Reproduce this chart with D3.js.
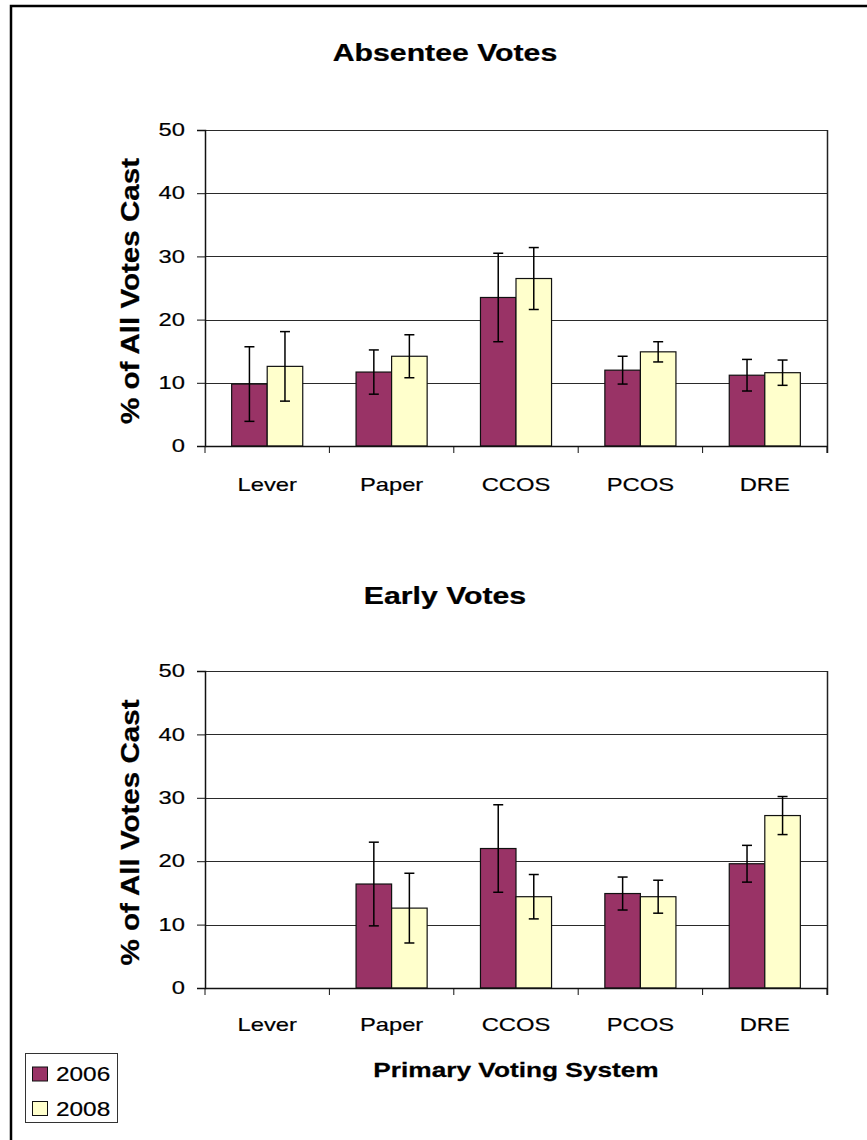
<!DOCTYPE html>
<html>
<head>
<meta charset="utf-8">
<script src="https://cdn.jsdelivr.net/npm/d3@7"></script>
<style>
  html, body { margin: 0; padding: 0; background: #fff; }
  svg { display: block; font-family: "Liberation Sans", Arial, sans-serif; }
</style>
</head>
<body>
<svg id="chart" width="867" height="1140"></svg>
<script>
// Voting systems on the x axis
const categories = ["Lever", "Paper", "CCOS", "PCOS", "DRE"];
const seriesNames = ["2006", "2008"];
const yTicks = [0, 10, 20, 30, 40, 50];

// Absentee votes, % of all votes cast, with error half-widths
const absentee2006 = [9.8, 11.7, 23.5, 12.0, 11.2];
const absentee2006Err = [5.9, 3.5, 7.0, 2.2, 2.5];
const absentee2008 = [12.6, 14.2, 26.5, 14.9, 11.6];
const absentee2008Err = [5.5, 3.4, 4.9, 1.6, 2.0];

// Early votes (no lever-machine data)
const early2006 = [null, 16.4, 22.0, 14.9, 19.6];
const early2006Err = [null, 6.6, 6.9, 2.6, 2.9];
const early2008 = [null, 12.6, 14.4, 14.4, 27.2];
const early2008Err = [null, 5.5, 3.5, 2.6, 3.0];

const colors = ["#993366", "#FFFFCC"];
const SX = 1.25; // horizontal stretch of the lettering

const svg = d3.select("#chart");

// outer frame (open to the right and bottom)
svg.append("rect")
  .attr("x", 11).attr("y", 6)
  .attr("width", 900).attr("height", 1200)
  .attr("fill", "none").attr("stroke", "#000").attr("stroke-width", 2.5);

function stretchedText(parent, x, y, str, opts) {
  const g = parent.append("g")
    .attr("transform", `translate(${x},${y}) scale(${opts.sx || SX},1)`);
  const t = g.append("text")
    .attr("x", 0).attr("y", 0)
    .attr("font-size", opts.size)
    .attr("font-weight", opts.bold ? "bold" : "normal")
    .attr("text-anchor", opts.anchor || "middle")
    .attr("fill", "#000")
    .attr("stroke", "#000").attr("stroke-width", opts.bold ? 0.25 : 0.2)
    .text(str);
  if (opts.baseline) t.attr("dominant-baseline", opts.baseline);
  return t;
}

function drawPanel(cfg) {
  const x0 = 205, x1 = 827;
  const y = d3.scaleLinear().domain([0, 50]).range([cfg.bottom, cfg.top]);
  const xCat = d3.scaleBand().domain(categories).range([x0, x1]).paddingInner(0).paddingOuter(0);
  const xSer = d3.scaleBand().domain(seriesNames).range([0, xCat.bandwidth()]).paddingInner(0).paddingOuter(0.75);

  const g = svg.append("g");

  // title
  stretchedText(g, 445, cfg.titleY, cfg.title, { size: 24, bold: true, sx: cfg.titleSx });

  // gridlines
  g.append("g").selectAll("line").data(yTicks.filter(d => d > 0)).join("line")
    .attr("x1", x0).attr("x2", x1)
    .attr("y1", d => Math.round(y(d)) + 0.5).attr("y2", d => Math.round(y(d)) + 0.5)
    .attr("stroke", "#2a2a2a").attr("stroke-width", 1.2);

  // right border of plot area
  g.append("line")
    .attr("x1", x1 + 0.5).attr("x2", x1 + 0.5)
    .attr("y1", cfg.top).attr("y2", cfg.bottom + 7)
    .attr("stroke", "#222").attr("stroke-width", 1.5);

  // bars
  const rows = [];
  categories.forEach((c, i) => {
    cfg.series.forEach((s, j) => {
      if (s.values[i] != null) rows.push({ c, name: seriesNames[j], v: s.values[i], e: s.err[i], j });
    });
  });

  g.append("g").selectAll("rect").data(rows).join("rect")
    .attr("x", d => xCat(d.c) + xSer(d.name))
    .attr("y", d => y(d.v))
    .attr("width", xSer.bandwidth())
    .attr("height", d => y(0) - y(d.v))
    .attr("fill", d => colors[d.j])
    .attr("stroke", "#111").attr("stroke-width", 1.2);

  // error bars
  const eb = g.append("g").attr("stroke", "#000").attr("stroke-width", 1.5);
  rows.forEach(d => {
    const cx = xCat(d.c) + xSer(d.name) + xSer.bandwidth() / 2;
    const yt = y(d.v + d.e), yb = y(d.v - d.e);
    eb.append("line").attr("x1", cx).attr("x2", cx).attr("y1", yt).attr("y2", yb);
    eb.append("line").attr("x1", cx - 5).attr("x2", cx + 5).attr("y1", yt).attr("y2", yt);
    eb.append("line").attr("x1", cx - 5).attr("x2", cx + 5).attr("y1", yb).attr("y2", yb);
  });

  // y axis
  const yAxis = d3.axisLeft(y).tickValues(yTicks).tickSize(8).tickPadding(12).tickFormat(d3.format("d"));
  const ya = g.append("g").attr("transform", `translate(${x0},0)`).call(yAxis);
  ya.select(".domain").attr("stroke", "#111").attr("stroke-width", 1.5);
  ya.selectAll(".tick line").attr("stroke", "#111");
  ya.selectAll(".tick text").remove();
  yTicks.forEach(t => {
    stretchedText(g, 185, y(t), String(t), { size: 19, anchor: "end", baseline: "central" });
  });

  // x axis
  const xAxis = d3.axisBottom(xCat).tickSize(0).tickFormat("");
  const xa = g.append("g").attr("transform", `translate(0,${cfg.bottom})`).call(xAxis);
  xa.select(".domain").attr("stroke", "#111").attr("stroke-width", 1.5);
  // category divider ticks
  const edges = categories.map(c => xCat(c)).concat([x1]);
  g.append("g").selectAll("line").data(edges).join("line")
    .attr("x1", d => d).attr("x2", d => d)
    .attr("y1", cfg.bottom).attr("y2", cfg.bottom + 7)
    .attr("stroke", "#111").attr("stroke-width", 1);
  categories.forEach(c => {
    stretchedText(g, xCat(c) + xCat.bandwidth() / 2, cfg.labelY, c, { size: 19 });
  });

  // y axis title
  const yt = g.append("g")
    .attr("transform", `translate(139,${(cfg.top + cfg.bottom) / 2 + 3}) rotate(-90)`);
  yt.append("text")
    .attr("text-anchor", "middle")
    .attr("font-size", 25).attr("font-weight", "bold")
    .attr("stroke", "#000").attr("stroke-width", 0.25)
    .attr("textLength", 266).attr("lengthAdjust", "spacingAndGlyphs")
    .text("% of All Votes Cast");

  return { xCat, y };
}

drawPanel({
  title: "Absentee Votes", titleY: 61, titleSx: 1.26, top: 130, bottom: 446, labelY: 491,
  series: [{ values: absentee2006, err: absentee2006Err }, { values: absentee2008, err: absentee2008Err }]
});

drawPanel({
  title: "Early Votes", titleY: 604, titleSx: 1.26, top: 671, bottom: 988, labelY: 1031,
  series: [{ values: early2006, err: early2006Err }, { values: early2008, err: early2008Err }]
});

// x axis title
stretchedText(svg, 516, 1077, "Primary Voting System", { size: 21, bold: true });

// legend
const legend = svg.append("g");
legend.append("rect")
  .attr("x", 25.5).attr("y", 1053.5).attr("width", 92).attr("height", 69)
  .attr("fill", "#fff").attr("stroke", "#333").attr("stroke-width", 1);
seriesNames.forEach((name, i) => {
  const base = i === 0 ? 1081 : 1115.5;
  legend.append("rect")
    .attr("x", 32.5).attr("y", base - 14).attr("width", 15).attr("height", 14)
    .attr("fill", colors[i]).attr("stroke", "#111").attr("stroke-width", 1);
  stretchedText(legend, 56, base, name, { size: 19.5, anchor: "start" });
});
</script>
</body>
</html>
